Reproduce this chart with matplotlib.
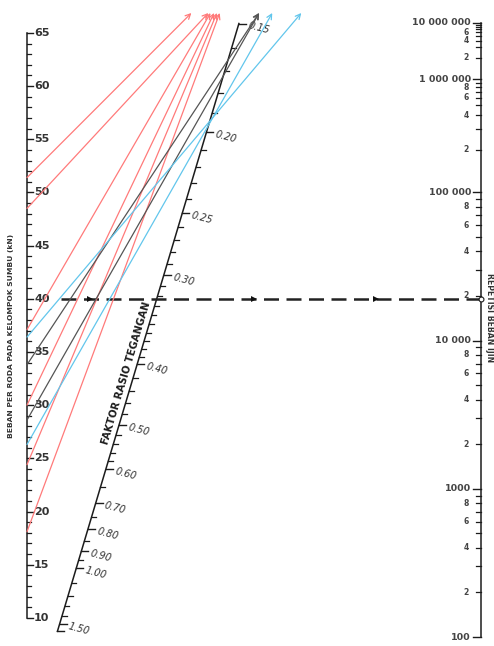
import matplotlib
matplotlib.use("Agg")
import matplotlib.pyplot as plt
import numpy as np

# left scale: wheel load per axle group (kN)
LOAD_MAJOR = [10, 15, 20, 25, 30, 35, 40, 45, 50, 55, 60, 65]
LOAD_MINOR = [v for v in range(10, 66) if v % 5]

# middle scale: stress ratio factor
FRT_MAJOR = [0.15, 0.20, 0.25, 0.30, 0.40, 0.50, 0.60, 0.70, 0.80, 0.90, 1.00, 1.50]
FRT_LABELS = ["0.15", "0.20", "0.25", "0.30", "0.40", "0.50", "0.60", "0.70",
              "0.80", "0.90", "1.00", "1.50"]
FRT_MINOR = [0.16, 0.17, 0.18, 0.19, 0.21, 0.22, 0.23, 0.24, 0.26, 0.27, 0.28, 0.29,
             0.31, 0.32, 0.33, 0.34, 0.35, 0.36, 0.37, 0.38, 0.39,
             0.42, 0.44, 0.46, 0.48, 0.52, 0.54, 0.56, 0.58,
             0.65, 0.75, 0.85, 0.95, 1.1, 1.2, 1.3, 1.4]
FRT_END = 1.6

# right scale: allowed load repetitions
REP_MAJOR = [100, 1000, 10000, 100000, 1000000, 10000000]
REP_LABELS = ["100", "1000", "10 000", "100 000", "1 000 000", "10 000 000"]
REP_MINOR = [2, 3, 4, 5, 6, 7, 8, 9]
REP_MINOR_LABELLED = [2, 4, 6, 8]

# reading lines: start load (kN) and FRT where the line meets the middle scale
RED_LOADS = [51.4, 48.5, 37.1, 30.0, 24.4, 18.1]
RED_FRT = [0.121, 0.127, 0.109, 0.097, 0.085, 0.064]
BLACK_LOADS = [33.8, 28.6]
BLACK_FRT = [0.165, 0.172]
BLUE_LOADS = [36.4, 26.3]
BLUE_FRT = [0.194, 0.196]

# worked example (dashed)
EXAMPLE_LOAD = 40

# ---- nomograph geometry (figure in pixel-like units) ----
LEFT_X = 27
RIGHT_X = 481
TOP_Y = 13
INK = "#1c1c1c"


def load_y(p):
    return 325.4 - 10.635 * (p - 37.5)


def frt_xy(f):
    t = 1.0 / (1.0 + f / 0.1333)
    return 22 + 461 * t, 750 - 1544 * t


def sr_of_rep(n):
    lg = np.log10(n)
    if lg <= 5.095:
        return (11.737 - lg) / 12.077
    return 0.4325 + 4.2577 / 10 ** (lg / 3.268)


def rep_y(n):
    return 637 + 1790 * (sr_of_rep(n) - sr_of_rep(100))


fig = plt.figure(figsize=(4.94, 6.46), dpi=100)
ax = fig.add_axes([0, 0, 1, 1])
ax.set_xlim(0, 494)
ax.set_ylim(646, 0)
ax.axis("off")

# left axis
ax.plot([LEFT_X, LEFT_X], [load_y(10), load_y(65)], color=INK, lw=1.1)
for v in LOAD_MAJOR:
    y = load_y(v)
    ax.plot([LEFT_X, LEFT_X + 6], [y, y], color=INK, lw=1.0)
    ax.text(LEFT_X + 7, y, str(v), fontsize=8, fontweight="bold", color="#333333",
            ha="left", va="center")
for v in LOAD_MINOR:
    y = load_y(v)
    ax.plot([LEFT_X, LEFT_X + 3.5], [y, y], color=INK, lw=0.9)
ax.text(11, 336, "BEBAN PER RODA PADA KELOMPOK SUMBU (kN)", rotation=90,
        fontsize=5.4, fontweight="bold", color="#333333", ha="center", va="center")

# middle axis
x0, y0 = frt_xy(FRT_END)
x1, y1 = frt_xy(FRT_MAJOR[0])
ax.plot([x0, x1], [y0, y1], color=INK, lw=1.1)
for f, lab in zip(FRT_MAJOR + [FRT_END], FRT_LABELS + [""]):
    x, y = frt_xy(f)
    ax.plot([x, x + 7], [y, y], color=INK, lw=1.0)
    if lab:
        ax.text(x + 9, y + 2, lab, fontsize=7, style="italic", color="#333333",
                rotation=-15, rotation_mode="anchor", ha="left", va="center")
for f in FRT_MINOR:
    x, y = frt_xy(f)
    ax.plot([x, x + 4.5], [y, y], color=INK, lw=0.9)
mx, my = frt_xy(0.41)
ang = np.degrees(np.arctan2(y0 - y1, x1 - x0))
ax.text(mx - 9, my + 2, "FAKTOR RASIO TEGANGAN", rotation=ang, rotation_mode="anchor",
        fontsize=7.2, fontweight="bold", color=INK, ha="center", va="center")

# right axis
ax.plot([RIGHT_X, RIGHT_X], [rep_y(100), rep_y(1e7)], color=INK, lw=1.1)
for n, lab in zip(REP_MAJOR, REP_LABELS):
    y = rep_y(n)
    ax.plot([RIGHT_X - 8, RIGHT_X], [y, y], color=INK, lw=1.0)
    ax.text(RIGHT_X - 10, y, lab, fontsize=6.8, fontweight="bold", color="#444444",
            ha="right", va="center")
for n in REP_MAJOR[:-1]:
    for m in REP_MINOR:
        y = rep_y(n * m)
        ax.plot([RIGHT_X - 5, RIGHT_X], [y, y], color=INK, lw=0.9)
        if m in REP_MINOR_LABELLED and not (n == 1000000 and m == 8):
            ax.text(RIGHT_X - 12, y, str(m), fontsize=5.5, fontweight="bold",
                    color="#444444", ha="right", va="center")
ax.text(489, 318, "REPETISI BEBAN IJIN", rotation=270, fontsize=5.6,
        fontweight="bold", color="#333333", ha="center", va="center")


def reading_lines(loads, frts, color):
    for p, f in zip(loads, frts):
        sx, sy = LEFT_X, load_y(p)
        mx_, my_ = frt_xy(f)
        s = (TOP_Y - sy) / (my_ - sy)
        ex, ey = sx + s * (mx_ - sx), TOP_Y
        ax.annotate("", xy=(ex, ey), xytext=(sx, sy),
                    arrowprops=dict(arrowstyle="->", color=color, lw=0.9,
                                    mutation_scale=9, shrinkA=0, shrinkB=0))


reading_lines(RED_LOADS, RED_FRT, "#ff7a7a")
reading_lines(BLACK_LOADS, BLACK_FRT, "#555555")
reading_lines(BLUE_LOADS, BLUE_FRT, "#62c6ec")

# dashed example line with direction marks
ye = load_y(EXAMPLE_LOAD)
xs, xe = LEFT_X + 34, RIGHT_X
ax.plot([xs, xe], [ye, ye], color="#222222", lw=1.8, dashes=(6, 3))
for frac in [0.07, 0.46, 0.75]:
    ax.plot(xs + frac * (xe - xs), ye, marker=">", ms=5, color="#111111", mew=0)
ax.plot(xe, ye, marker="o", ms=3.5, mfc="white", mec=INK, mew=0.8)

fig.savefig("out.png", dpi=100)
